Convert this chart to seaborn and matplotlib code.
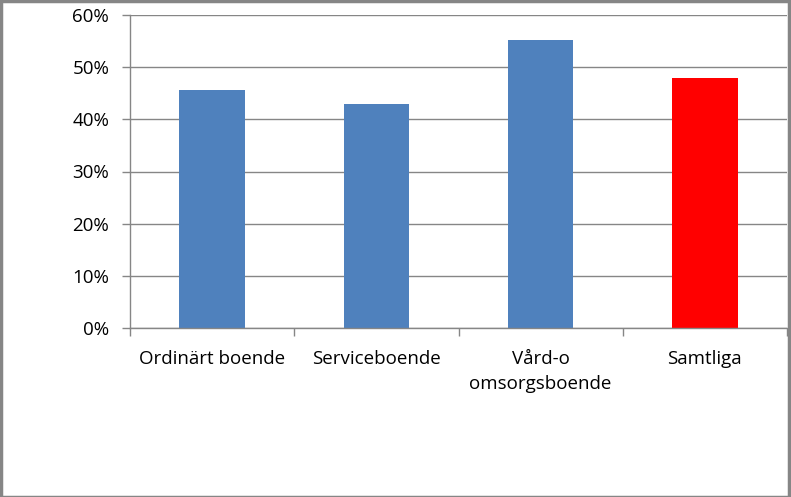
import matplotlib
matplotlib.use("Agg")
import matplotlib.pyplot as plt
import seaborn as sns
import pandas as pd
from matplotlib.ticker import FixedLocator, PercentFormatter
from matplotlib.patches import Rectangle

categories = ["Ordinärt boende", "Serviceboende", "Vård-o\nomsorgsboende", "Samtliga"]
values = [45.6, 42.9, 55.2, 47.9]
colors = ["#4F81BD", "#4F81BD", "#4F81BD", "#FF0000"]
yticks = [0, 10, 20, 30, 40, 50, 60]

sns.set_theme(style="white")
plt.rcParams['font.family'] = ['Open Sans', 'DejaVu Sans']

df = pd.DataFrame({"cat": categories, "val": values})

fig = plt.figure(figsize=(7.91, 4.97), dpi=100)
ax = fig.add_axes([130/791, 1-328/497, (787-130)/791, (328-15)/497])

sns.barplot(data=df, x="cat", y="val", hue="cat", palette=colors, legend=False,
            width=0.4, saturation=1, linewidth=0, ax=ax)

ax.set_ylim(0, 60)
ax.set_xlim(-0.5, len(categories) - 0.5)
ax.yaxis.set_major_locator(FixedLocator(yticks))
ax.yaxis.set_major_formatter(PercentFormatter(decimals=0))
ax.grid(axis="y", color="#868686", linewidth=1)
ax.set_axisbelow(True)
ax.set_xlabel("")
ax.set_ylabel("")

for s in ["top", "right"]:
    ax.spines[s].set_visible(False)
for s in ["left", "bottom"]:
    ax.spines[s].set_color("#868686")
    ax.spines[s].set_linewidth(1)

ax.tick_params(axis="y", which="major", left=True, length=6, width=1, color="#868686",
               labelsize=13.5, pad=9, labelcolor="black")
ax.tick_params(axis="x", which="major", bottom=False, labelsize=13.5, pad=10, labelcolor="black")
# category boundary ticks
ax.xaxis.set_minor_locator(FixedLocator([i - 0.5 for i in range(len(categories) + 1)]))
ax.tick_params(axis="x", which="minor", bottom=True, length=6, width=1, color="#868686")
for lbl in ax.get_xticklabels():
    lbl.set_linespacing(1.45)

fig.patches.append(Rectangle((0.001, 0.001), 0.997, 0.996, transform=fig.transFigure,
                             fill=False, edgecolor="#868686", linewidth=2.5))

fig.savefig("out.png", dpi=100)
